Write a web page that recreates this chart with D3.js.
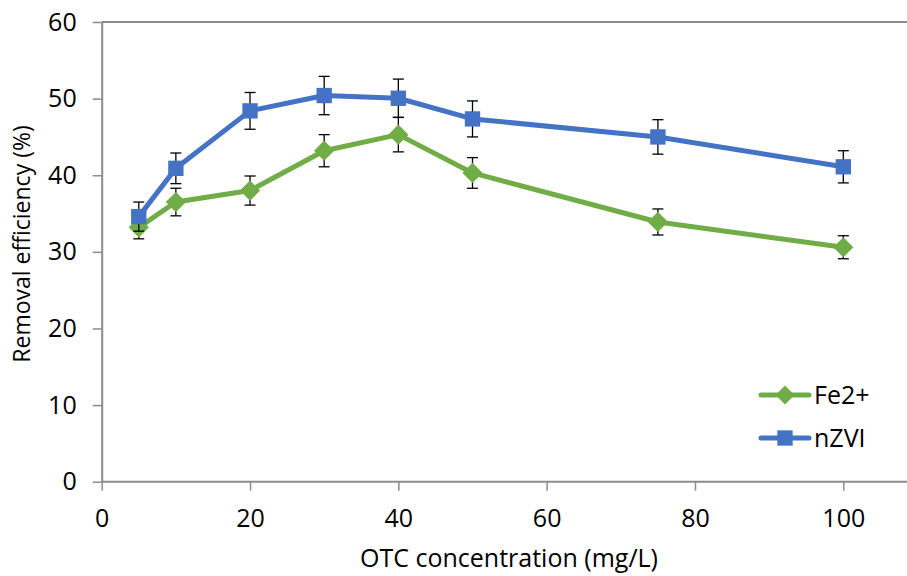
<!DOCTYPE html>
<html>
<head>
<meta charset="utf-8">
<script src="https://cdn.jsdelivr.net/npm/d3@7"></script>
<style>
  body { margin: 0; background: #fff; }
  svg { display: block; font-family: "Open Sans", "Noto Sans", sans-serif; }
</style>
</head>
<body>
<svg id="chart" width="907" height="576"></svg>
<script>
// data
const concentrations = [5, 10, 20, 30, 40, 50, 75, 100];
const fe2Values = [33.2, 36.5, 38.0, 43.2, 45.3, 40.3, 33.9, 30.6];
const fe2Errors = [1.5, 1.8, 1.9, 2.1, 2.25, 2.0, 1.7, 1.5];
const nzviValues = [34.6, 40.9, 48.4, 50.4, 50.05, 47.35, 45.0, 41.1];
const nzviErrors = [1.9, 2.0, 2.4, 2.5, 2.5, 2.35, 2.25, 2.1];
const xTicks = [0, 20, 40, 60, 80, 100];
const yTicks = [0, 10, 20, 30, 40, 50, 60];

const W = 907, H = 576;
const fontSize = 25;
const svg = d3.select('#chart');

const x = d3.scaleLinear().domain([0, 100]).range([101.7, 843.3]);
const y = d3.scaleLinear().domain([0, 60]).range([481.7, 22]);
const axisColor = '#8c8c8c';

// left axis
const yAxis = svg.append('g').attr('transform', `translate(${x(0)},0)`)
    .call(d3.axisLeft(y).tickValues(yTicks).tickSize(9).tickPadding(12).tickSizeOuter(0));
yAxis.attr('font-size', fontSize).attr('font-family', '"Open Sans", sans-serif');
yAxis.select('.domain').attr('stroke', axisColor).attr('stroke-width', 2);
yAxis.selectAll('.tick line').attr('stroke', axisColor).attr('stroke-width', 1.5);
yAxis.selectAll('.tick text').attr('fill', '#000').attr('dx', -4);

// top border line at y = 60
svg.append('line')
    .attr('x1', x(0)).attr('x2', W)
    .attr('y1', y(60)).attr('y2', y(60))
    .attr('stroke', axisColor).attr('stroke-width', 2);

// bottom axis
const xAxis = svg.append('g').attr('transform', `translate(0,${y(0)})`)
    .call(d3.axisBottom(x).tickValues(xTicks).tickSize(9).tickPadding(19).tickSizeOuter(0));
xAxis.attr('font-size', fontSize).attr('font-family', '"Open Sans", sans-serif');
xAxis.select('.domain').remove();
xAxis.append('line').attr('x1', x(0)).attr('x2', W).attr('y1', 0).attr('y2', 0)
    .attr('stroke', axisColor).attr('stroke-width', 2);
xAxis.selectAll('.tick line').attr('stroke', axisColor).attr('stroke-width', 1.5);
xAxis.selectAll('.tick text').attr('fill', '#000');

// axis titles
svg.append('text')
    .attr('x', 509).attr('y', 567)
    .attr('text-anchor', 'middle')
    .attr('font-size', fontSize)
    .text('OTC concentration (mg/L)');

svg.append('text')
    .attr('transform', 'translate(30,244) rotate(-90)')
    .attr('text-anchor', 'middle')
    .attr('font-size', 23)
    .text('Removal efficiency (%)');

const series = [
    { name: 'Fe2+', values: fe2Values, errors: fe2Errors, color: '#70ad47', shape: d3.symbolDiamond2 },
    { name: 'nZVI', values: nzviValues, errors: nzviErrors, color: '#4472c4', shape: d3.symbolSquare2 }
];

const line = d3.line().x(d => x(d.c)).y(d => y(d.v));

series.forEach(s => {
    const pts = concentrations.map((c, i) => ({ c: c, v: s.values[i], e: s.errors[i] }));
    const g = svg.append('g');

    g.append('path')
        .datum(pts)
        .attr('d', line)
        .attr('fill', 'none')
        .attr('stroke', s.color)
        .attr('stroke-width', 5)
        .attr('stroke-linejoin', 'round');

    // error bars
    const eb = g.selectAll('.err').data(pts).enter().append('g').attr('class', 'err');
    eb.append('line')
        .attr('x1', d => x(d.c)).attr('x2', d => x(d.c))
        .attr('y1', d => y(d.v + d.e)).attr('y2', d => y(d.v - d.e))
        .attr('stroke', '#000').attr('stroke-width', 1.3);
    [1, -1].forEach(sign => {
        eb.append('line')
            .attr('x1', d => x(d.c) - 5.5).attr('x2', d => x(d.c) + 5.5)
            .attr('y1', d => y(d.v + sign * d.e)).attr('y2', d => y(d.v + sign * d.e))
            .attr('stroke', '#000').attr('stroke-width', 1.3);
    });

    const size = s.name === 'nZVI' ? 300 : 260;
    g.selectAll('.mk').data(pts).enter().append('path')
        .attr('class', 'mk')
        .attr('transform', d => `translate(${x(d.c)},${y(d.v)})`)
        .attr('d', d3.symbol().type(s.shape).size(size))
        .attr('fill', s.color);
});

// legend
const legendItems = [
    { name: 'Fe2+', color: '#70ad47', shape: d3.symbolDiamond2, y: 395, size: 230 },
    { name: 'nZVI', color: '#4472c4', shape: d3.symbolSquare2, y: 438, size: 300 }
];
legendItems.forEach(it => {
    const lg = svg.append('g');
    lg.append('line')
        .attr('x1', 761).attr('x2', 809)
        .attr('y1', it.y).attr('y2', it.y)
        .attr('stroke', it.color).attr('stroke-width', 5).attr('stroke-linecap', 'round');
    lg.append('path')
        .attr('transform', `translate(785,${it.y})`)
        .attr('d', d3.symbol().type(it.shape).size(it.size))
        .attr('fill', it.color);
    lg.append('text')
        .attr('x', 814).attr('y', it.y + 9)
        .attr('font-size', fontSize)
        .text(it.name);
});
</script>
</body>
</html>
